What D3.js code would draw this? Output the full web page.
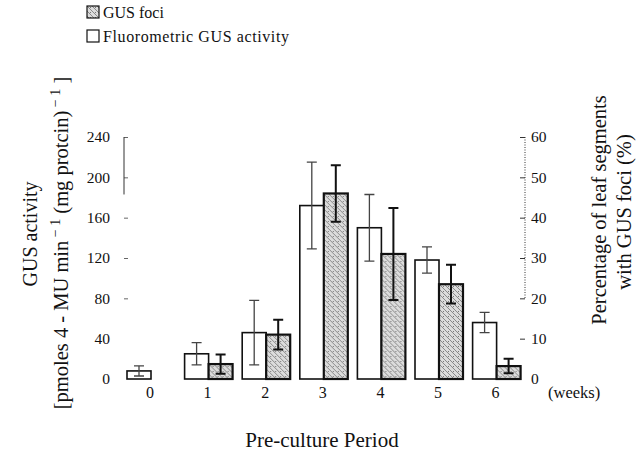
<!DOCTYPE html>
<html>
<head>
<meta charset="utf-8">
<script src="https://cdn.jsdelivr.net/npm/d3@7"></script>
<style>
  body { margin: 0; background: #fff; }
  svg text { font-family: "Liberation Serif", "Times New Roman", Times, "DejaVu Serif", serif !important; }
</style>
</head>
<body>
<svg id="chart" width="639" height="457"></svg>
<script>
  // data
  var weeks = [0, 1, 2, 3, 4, 5, 6];
  var activity = [8, 25, 46, 172, 150, 118, 56];       // GUS activity, left axis
  var activityErr = [5, 11, 32, 43, 33, 13, 10];
  var foci = [0, 3.7, 11, 46, 31, 23.5, 3.2];          // % segments with foci, right axis
  var fociErr = [0, 2.4, 3.7, 7, 11.4, 4.8, 1.8];
  var leftTicks = [0, 40, 80, 120, 160, 200, 240];
  var rightTicks = [0, 10, 20, 30, 40, 50, 60];

  var serif = 'Liberation Serif, Times New Roman, serif';
  var svg = d3.select('#chart').attr('font-family', serif);

  // hatched + stippled fill for the foci bars
  var defs = svg.append('defs');
  var pat = defs.append('pattern')
      .attr('id', 'hatch')
      .attr('patternUnits', 'userSpaceOnUse')
      .attr('width', 5).attr('height', 5);
  pat.append('rect').attr('width', 5).attr('height', 5).attr('fill', '#dcdcdc');
  pat.append('path').attr('d', 'M0,0 L5,5 M-1,4 L1,6 M4,-1 L6,1')
      .attr('stroke', '#8a8a8a').attr('stroke-width', 1);
  pat.append('rect').attr('x', 3).attr('y', 1).attr('width', 1).attr('height', 1).attr('fill', '#777');

  var x = d3.scaleBand()
      .domain(weeks)
      .range([127, 520.6])
      .paddingInner(0.1667)
      .paddingOuter(0);
  var xSub = d3.scaleBand()
      .domain(['act', 'foci'])
      .range([0, x.bandwidth()]);
  var yL = d3.scaleLinear().domain([0, 240]).range([379, 137]);
  var yR = d3.scaleLinear().domain([0, 60]).range([379, 137]);

  // left axis (only the upper part of the line survived in the print)
  var gL = svg.append('g').attr('transform', 'translate(124,0)')
      .call(d3.axisLeft(yL).tickValues(leftTicks).tickSizeInner(-4).tickSizeOuter(0).tickPadding(14));
  gL.attr('font-family', serif);
  gL.select('.domain').remove();
  gL.selectAll('.tick line').attr('stroke', function(d) { return d < 80 ? 'none' : '#666'; });
  gL.selectAll('.tick text').attr('font-size', 15.5).attr('fill', '#111');
  gL.append('line')
      .attr('y1', yL(240)).attr('y2', yL(183))
      .attr('stroke', '#333').attr('stroke-width', 1);

  // right axis, dotted line
  var gR = svg.append('g').attr('transform', 'translate(525,0)')
      .call(d3.axisRight(yR).tickValues(rightTicks).tickSizeInner(-5).tickSizeOuter(0).tickPadding(6));
  gR.attr('font-family', serif);
  gR.select('.domain').remove();
  gR.selectAll('.tick line').attr('stroke', function(d) { return d === 0 ? 'none' : '#333'; });
  gR.selectAll('.tick text').attr('font-size', 15.5).attr('fill', '#111');
  gR.append('line')
      .attr('y1', yR(60)).attr('y2', yR(20))
      .attr('stroke', '#333').attr('stroke-width', 1)
      .attr('stroke-dasharray', '1,1.5');

  // bars
  var groups = svg.append('g').selectAll('g')
      .data(weeks)
      .enter().append('g')
      .attr('transform', function(d) { return 'translate(' + x(d) + ',0)'; });

  groups.append('rect')
      .attr('x', xSub('act'))
      .attr('y', function(d, i) { return yL(activity[i]); })
      .attr('width', xSub.bandwidth())
      .attr('height', function(d, i) { return yL(0) - yL(activity[i]); })
      .attr('fill', '#fff')
      .attr('stroke', '#111')
      .attr('stroke-width', 1.6);

  groups.filter(function(d, i) { return foci[i] > 0; })
    .append('rect')
      .attr('x', xSub('foci'))
      .attr('y', function(d) { return yR(foci[d]); })
      .attr('width', xSub.bandwidth())
      .attr('height', function(d) { return yR(0) - yR(foci[d]); })
      .attr('fill', 'url(#hatch)')
      .attr('stroke', '#111')
      .attr('stroke-width', 2.2);

  // error bars
  function errBar(sel, cx, yTop, yBot, color, w) {
    sel.append('path')
      .attr('d', 'M' + (cx - 5) + ',' + yTop + 'H' + (cx + 5) +
                 'M' + cx + ',' + yTop + 'V' + yBot +
                 'M' + (cx - 5) + ',' + yBot + 'H' + (cx + 5))
      .attr('fill', 'none').attr('stroke', color).attr('stroke-width', w);
  }
  groups.each(function(d, i) {
    var g = d3.select(this);
    var cA = xSub('act') + xSub.bandwidth() / 2;
    errBar(g, cA, yL(activity[i] + activityErr[i]), yL(activity[i] - activityErr[i]), '#444', 1.3);
    if (foci[i] > 0) {
      var cF = xSub('foci') + xSub.bandwidth() / 2;
      errBar(g, cF, yR(foci[i] + fociErr[i]), yR(foci[i] - fociErr[i]), '#111', 2);
    }
  });

  // week labels
  svg.append('g').selectAll('text')
      .data(weeks)
      .enter().append('text')
      .attr('x', function(d) { return x(d) + xSub('foci') - 1; })
      .attr('y', 398)
      .attr('text-anchor', 'middle')
      .attr('font-size', 16)
      .attr('fill', '#111')
      .text(function(d) { return d; });
  svg.append('text').attr('x', 548).attr('y', 398)
      .attr('font-size', 16.5).attr('fill', '#111').text('(weeks)');

  svg.append('text').attr('x', 322).attr('y', 447)
      .attr('text-anchor', 'middle').attr('font-size', 21).attr('fill', '#111')
      .text('Pre-culture Period');

  // left title
  svg.append('text')
      .attr('transform', 'translate(37,234) rotate(-90)')
      .attr('text-anchor', 'middle').attr('font-size', 20).attr('fill', '#111')
      .text('GUS activity');
  var lt2 = svg.append('text')
      .attr('transform', 'translate(68,243) rotate(-90)')
      .attr('text-anchor', 'middle').attr('font-size', 20.5).attr('fill', '#111');
  lt2.append('tspan').text('[pmoles 4 - MU min');
  lt2.append('tspan').attr('dy', -8).attr('font-size', 14).text(' \u2212 1');
  lt2.append('tspan').attr('dy', 8).text(' (mg protcin)');
  lt2.append('tspan').attr('dy', -8).attr('font-size', 14).text(' \u2212 1');
  lt2.append('tspan').attr('dy', 8).text(' ]');

  // right title
  svg.append('text')
      .attr('transform', 'translate(606,210) rotate(-90)')
      .attr('text-anchor', 'middle').attr('font-size', 20.5).attr('fill', '#111')
      .text('Percentage of leaf segments');
  svg.append('text')
      .attr('transform', 'translate(631,212) rotate(-90)')
      .attr('text-anchor', 'middle').attr('font-size', 20.5).attr('fill', '#111')
      .text('with GUS foci (%)');

  // legend
  var legend = [
    { label: 'GUS foci', fill: 'url(#hatch)' },
    { label: 'Fluorometric GUS activity', fill: '#fff' }
  ];
  var lg = svg.append('g').selectAll('g')
      .data(legend)
      .enter().append('g')
      .attr('transform', function(d, i) { return 'translate(87,' + (6 + i * 24) + ')'; });
  lg.append('rect').attr('width', 12).attr('height', 12)
      .attr('fill', function(d) { return d.fill; })
      .attr('stroke', '#111').attr('stroke-width', 1.2);
  lg.append('text').attr('x', 16).attr('y', 12)
      .attr('font-size', 16).attr('fill', '#111')
      .attr('letter-spacing', function(d, i) { return i ? 0.6 : 0; })
      .text(function(d) { return d.label; });
</script>
</body>
</html>
